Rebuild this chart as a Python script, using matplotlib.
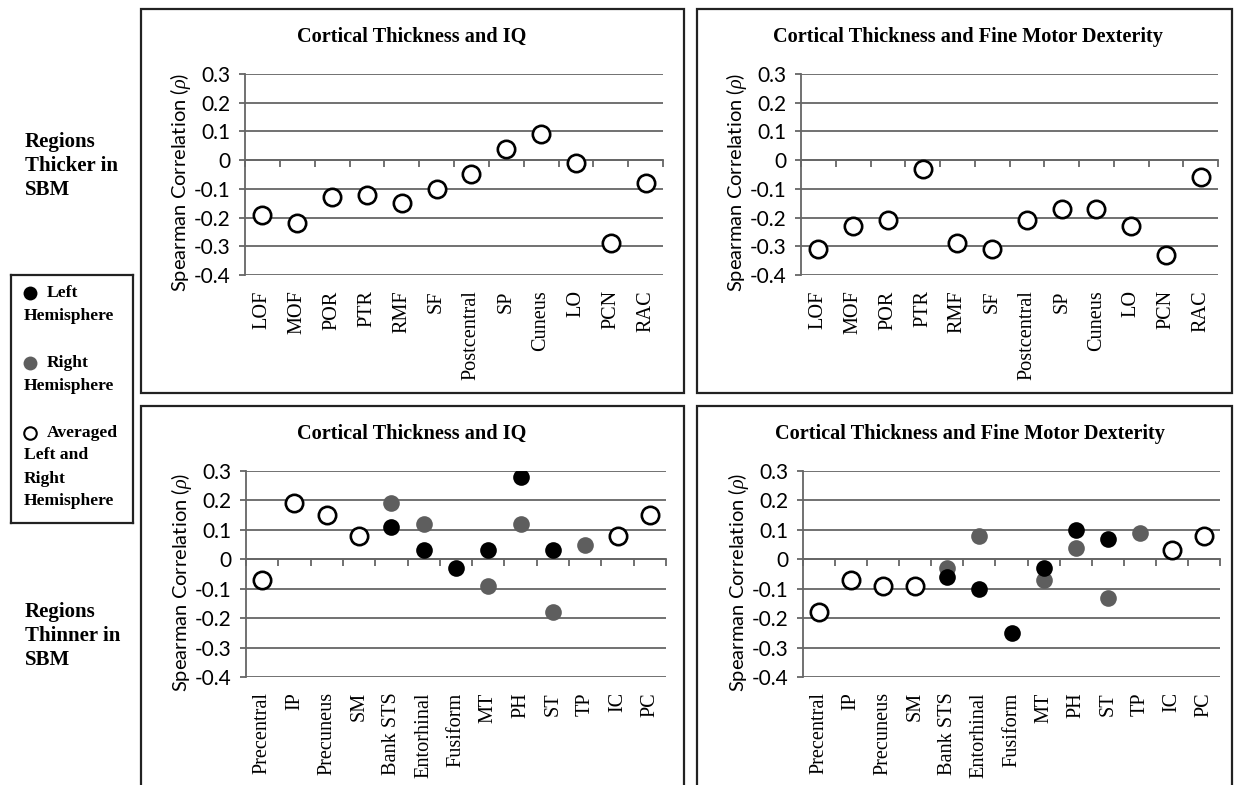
import numpy as np
import matplotlib
matplotlib.use("Agg")
import matplotlib.pyplot as plt
from matplotlib.patches import Rectangle

plt.rcParams['font.family'] = ['Liberation Serif', 'DejaVu Serif']
plt.rcParams['mathtext.fontset'] = 'custom'
plt.rcParams['mathtext.rm'] = 'Lato'
plt.rcParams['mathtext.it'] = 'Liberation Serif:italic'

# Data
thicker_regions = ['LOF', 'MOF', 'POR', 'PTR', 'RMF', 'SF', 'Postcentral', 'SP',
                   'Cuneus', 'LO', 'PCN', 'RAC']
thicker_iq = [-0.19, -0.22, -0.13, -0.12, -0.15, -0.10, -0.05, 0.04, 0.09, -0.01, -0.29, -0.08]
thicker_motor = [-0.31, -0.23, -0.21, -0.03, -0.29, -0.31, -0.21, -0.17, -0.17, -0.23, -0.33, -0.06]

thinner_regions = ['Precentral', 'IP', 'Precuneus', 'SM', 'Bank STS', 'Entorhinal',
                   'Fusiform', 'MT', 'PH', 'ST', 'TP', 'IC', 'PC']
nan = np.nan
thinner_iq_avg = [-0.07, 0.19, 0.15, 0.08, nan, nan, nan, nan, nan, nan, nan, 0.08, 0.15]
thinner_iq_left = [nan, nan, nan, nan, 0.11, 0.03, -0.03, 0.03, 0.28, 0.03, nan, nan, nan]
thinner_iq_right = [nan, nan, nan, nan, 0.19, 0.12, nan, -0.09, 0.12, -0.18, 0.05, nan, nan]
thinner_motor_avg = [-0.18, -0.07, -0.09, -0.09, nan, nan, nan, nan, nan, nan, nan, 0.03, 0.08]
thinner_motor_left = [nan, nan, nan, nan, -0.06, -0.10, -0.25, -0.03, 0.10, 0.07, nan, nan, nan]
thinner_motor_right = [nan, nan, nan, nan, -0.03, 0.08, nan, -0.07, 0.04, -0.13, 0.09, nan, nan]

y_ticks = [-0.4, -0.3, -0.2, -0.1, 0, 0.1, 0.2, 0.3]
y_tick_labels = ['-0.4', '-0.3', '-0.2', '-0.1', '0', '0.1', '0.2', '0.3']

GRAY = '#5e5e5e'
LINE = '#666666'

W, H = 1239, 785
fig = plt.figure(figsize=(W / 100, H / 100), dpi=100)


def px_axes(x0, y0, x1, y1):
    return fig.add_axes([x0 / W, 1 - y1 / H, (x1 - x0) / W, (y1 - y0) / H])


def px_box(x0, y0, x1, y1):
    fig.add_artist(Rectangle((x0 / W, 1 - y1 / H), (x1 - x0) / W, (y1 - y0) / H,
                             transform=fig.transFigure, fill=False,
                             edgecolor='#222222', linewidth=1.6))


def draw_panel(ax, title, regions, avg=None, left=None, right=None, title_x=None, title_y=None):
    n = len(regions)
    x = np.arange(n)
    ax.set_xlim(-0.5, n - 0.5)
    ax.set_ylim(-0.4, 0.3)
    ax.set_yticks(y_ticks, labels=y_tick_labels, family='Lato')
    ax.yaxis.grid(True, color=LINE, linewidth=1.3)
    for s in ['top', 'right']:
        ax.spines[s].set_visible(False)
    ax.spines['left'].set_color(LINE)
    ax.spines['left'].set_linewidth(1.3)
    ax.spines['bottom'].set_position(('data', 0))
    ax.spines['bottom'].set_color(LINE)
    ax.spines['bottom'].set_linewidth(1.3)
    ax.set_xticks(np.arange(n + 1) - 0.5)
    ax.tick_params(axis='x', direction='out', length=5, width=1.3, color=LINE,
                   labelbottom=False)
    ax.tick_params(axis='y', direction='out', length=4.5, width=1.3, color=LINE,
                   labelsize=15, pad=6)

    sec = ax.secondary_xaxis('bottom')
    sec.set_xticks(x, labels=regions, rotation=90, fontsize=14.6)
    sec.tick_params(length=0, pad=11)
    sec.spines['bottom'].set_visible(False)

    ax.set_ylabel(r'Spearman Correlation ($\rho$)', fontsize=14.5, family='Lato')
    ax.yaxis.set_label_coords(-0.125, 0.46)

    if right is not None:
        ax.plot(x, right, 'o', color=GRAY, markersize=12, markeredgewidth=0, zorder=3)
    if left is not None:
        ax.plot(x, left, 'o', color='black', markersize=12, markeredgewidth=0, zorder=4)
    if avg is not None:
        ax.plot(x, avg, 'o', markerfacecolor='white', markeredgecolor='black',
                markersize=12.5, markeredgewidth=1.9, zorder=5)
    fig.text(title_x / W, 1 - title_y / H, title, ha='center', va='center',
             fontsize=14.6, fontweight='bold')


# panel frames
px_box(141, 9, 684, 393)
px_box(697, 9, 1232, 393)
px_box(141, 406, 684, 800)
px_box(697, 406, 1232, 800)

ax1 = px_axes(245, 74, 663, 275)
draw_panel(ax1, 'Cortical Thickness and IQ', thicker_regions, avg=thicker_iq,
           title_x=412, title_y=37)
ax2 = px_axes(801, 74, 1218, 275)
draw_panel(ax2, 'Cortical Thickness and Fine Motor Dexterity', thicker_regions,
           avg=thicker_motor, title_x=968, title_y=37)
ax3 = px_axes(246, 471, 666, 677)
draw_panel(ax3, 'Cortical Thickness and IQ', thinner_regions, avg=thinner_iq_avg,
           left=thinner_iq_left, right=thinner_iq_right, title_x=412, title_y=434)
ax4 = px_axes(803, 471, 1220, 677)
draw_panel(ax4, 'Cortical Thickness and Fine Motor Dexterity', thinner_regions,
           avg=thinner_motor_avg, left=thinner_motor_left, right=thinner_motor_right,
           title_x=970, title_y=434)

# row labels
fig.text(25 / W, 1 - 166 / H, 'Regions\nThicker in\nSBM', ha='left', va='center',
         fontsize=15, fontweight='bold', linespacing=1.28)
fig.text(25 / W, 1 - 636 / H, 'Regions\nThinner in\nSBM', ha='left', va='center',
         fontsize=15, fontweight='bold', linespacing=1.28)

# legend box
lg = px_axes(11, 275, 133, 523)
lg.set_xlim(0, 122)
lg.set_ylim(248, 0)
lg.set_xticks([])
lg.set_yticks([])
for s in lg.spines.values():
    s.set_color('#222222')
    s.set_linewidth(1.6)
lg.plot([19], [18], 'o', color='black', markersize=10, markeredgewidth=0)
lg.plot([19], [88], 'o', color=GRAY, markersize=10, markeredgewidth=0)
lg.plot([19], [158], 'o', markerfacecolor='white', markeredgecolor='black',
        markersize=9, markeredgewidth=1.5)
kw = dict(fontsize=12.6, fontweight='bold', va='center', ha='left')
lg.text(36, 18, 'Left', **kw)
lg.text(13, 41, 'Hemisphere', **kw)
lg.text(36, 88, 'Right', **kw)
lg.text(13, 111, 'Hemisphere', **kw)
lg.text(36, 158, 'Averaged', **kw)
lg.text(13, 180, 'Left and', **kw)
lg.text(13, 204, 'Right', **kw)
lg.text(13, 226, 'Hemisphere', **kw)

fig.savefig('out.png', dpi=100)
